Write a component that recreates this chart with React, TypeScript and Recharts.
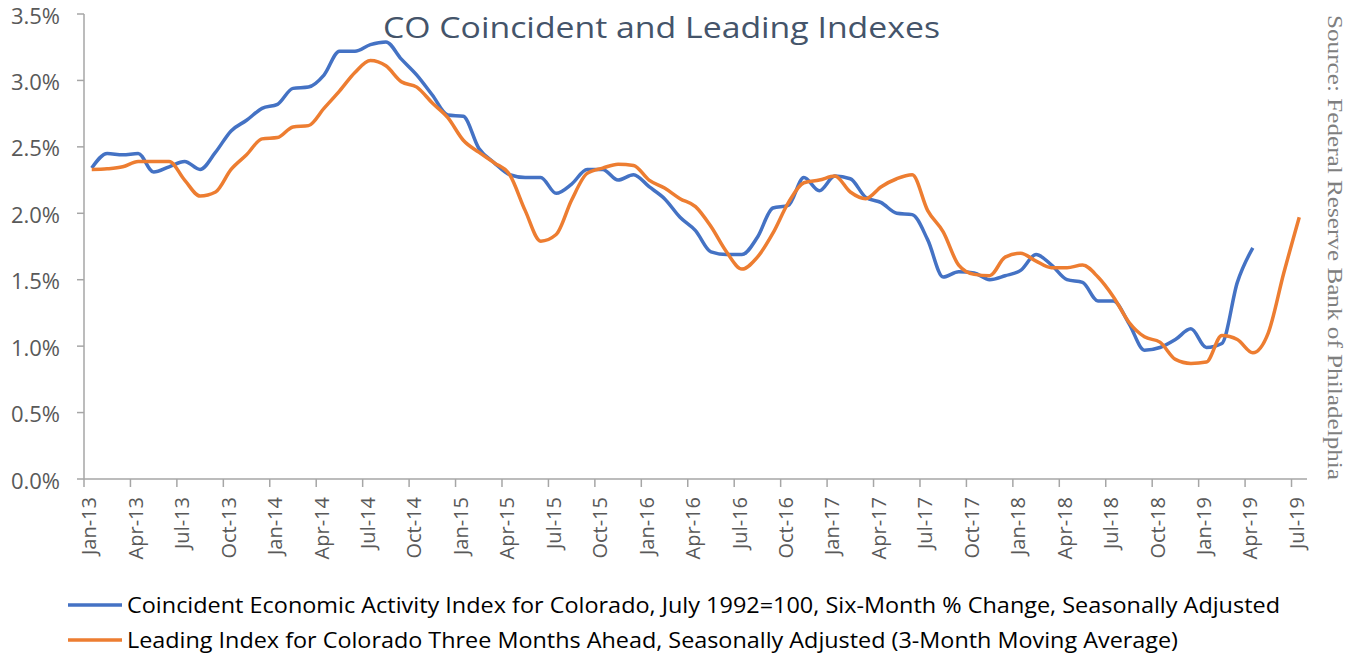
import React from 'react';
import { LineChart, Line, XAxis, YAxis } from 'recharts';

const tickLabels = [
  'Jan-13', 'Apr-13', 'Jul-13', 'Oct-13',
  'Jan-14', 'Apr-14', 'Jul-14', 'Oct-14',
  'Jan-15', 'Apr-15', 'Jul-15', 'Oct-15',
  'Jan-16', 'Apr-16', 'Jul-16', 'Oct-16',
  'Jan-17', 'Apr-17', 'Jul-17', 'Oct-17',
  'Jan-18', 'Apr-18', 'Jul-18', 'Oct-18',
  'Jan-19', 'Apr-19', 'Jul-19',
];

const yTicks = [0, 0.5, 1.0, 1.5, 2.0, 2.5, 3.0, 3.5];

// Coincident index, six-month % change, monthly from Jan-13 to Apr-19
const coincident = [
  2.34, 2.45, 2.44, 2.45, 2.31, 2.35, 2.39, 2.33, 2.46, 2.62, 2.70, 2.79,
  2.82, 2.94, 2.95, 3.04, 3.22, 3.22, 3.27, 3.29, 3.16, 3.04, 2.89, 2.74,
  2.73, 2.49, 2.38, 2.29, 2.27, 2.27, 2.15, 2.22, 2.33, 2.33, 2.25, 2.29,
  2.20, 2.11, 1.97, 1.87, 1.71, 1.69, 1.69, 1.82, 2.04, 2.06, 2.27, 2.17,
  2.28, 2.26, 2.12, 2.08, 2.00, 1.99, 1.80, 1.52, 1.56, 1.55, 1.50, 1.53,
  1.57, 1.69, 1.61, 1.50, 1.48, 1.34, 1.34, 1.17, 0.97, 0.99, 1.05, 1.13,
  0.99, 1.02, 1.48, 1.74,
];

// Leading index, three months ahead, monthly from Jan-13 to Jul-19
const leading = [
  2.33, 2.335, 2.35, 2.39, 2.39, 2.39, 2.25, 2.13, 2.16, 2.33, 2.44, 2.56,
  2.57, 2.65, 2.66, 2.79, 2.92, 3.06, 3.15, 3.11, 2.99, 2.95, 2.83, 2.72,
  2.55, 2.46, 2.38, 2.29, 2.02, 1.79, 1.84, 2.10, 2.30, 2.34, 2.37, 2.36,
  2.25, 2.19, 2.11, 2.05, 1.90, 1.71, 1.58, 1.67, 1.85, 2.08, 2.23, 2.25,
  2.28, 2.16, 2.11, 2.20, 2.26, 2.29, 2.02, 1.86, 1.61, 1.54, 1.53, 1.67,
  1.70, 1.64, 1.59, 1.59, 1.61, 1.52, 1.37, 1.18, 1.07, 1.03, 0.90, 0.87,
  0.88, 1.08, 1.05, 0.95, 1.10, 1.55, 1.97,
];

const seriesNames = [
  'Coincident Economic Activity Index for Colorado, July 1992=100, Six-Month % Change, Seasonally Adjusted',
  'Leading Index for Colorado Three Months Ahead, Seasonally Adjusted (3-Month Moving Average)',
];

const BLUE = '#4472C4';
const ORANGE = '#ED7D31';
const AXIS = '#A6A6A6';
const LABEL = '#595959';
const FONT = "'Open Sans', sans-serif";

// month index -> point placed mid-month
const data = leading.map((v, i) => ({
  t: i + 0.5,
  coincident: i < coincident.length ? coincident[i] : null,
  leading: v,
}));

const xTicks = tickLabels.map((_, k) => k * 3);

const XTick = (props: any) => {
  const { x, y, payload } = props;
  const label = tickLabels[Math.round(payload.value / 3)];
  return (
    <g transform={`translate(${x},${y})`}>
      <text
        transform="rotate(-90)"
        x={0}
        y={0}
        dy={7}
        textAnchor="end"
        dominantBaseline="middle"
        fill={LABEL}
        fontSize={20}
        fontFamily={FONT}
      >
        {label}
      </text>
    </g>
  );
};

const YTick = (props: any) => {
  const { x, y, payload } = props;
  return (
    <text
      x={x}
      y={y}
      dy={9.5}
      textAnchor="end"
      fill={LABEL}
      fontSize={22}
      fontFamily={FONT}
    >
      {Number(payload.value).toFixed(1) + '%'}
    </text>
  );
};

export default function App() {
  return (
    <div style={{ position: 'absolute', left: 0, top: 0, width: 1347, height: 654, background: '#fff' }}>
      <LineChart
        width={1347}
        height={654}
        data={data}
        margin={{ top: 14, right: 40, bottom: 0, left: 0 }}
      >
        <XAxis
          dataKey="t"
          type="number"
          domain={[0, 79]}
          ticks={xTicks}
          interval={0}
          height={175}
          tickSize={8}
          tickMargin={10}
          tick={<XTick />}
          axisLine={{ stroke: AXIS, strokeWidth: 1.5 }}
          tickLine={{ stroke: AXIS, strokeWidth: 1.5 }}
          allowDataOverflow
        />
        <YAxis
          type="number"
          domain={[0, 3.5]}
          ticks={yTicks}
          interval={0}
          width={84}
          tickSize={7}
          tickMargin={17}
          tick={<YTick />}
          axisLine={{ stroke: AXIS, strokeWidth: 1.5 }}
          tickLine={{ stroke: AXIS, strokeWidth: 1.5 }}
        />
        <Line
          type="monotone"
          dataKey="coincident"
          stroke={BLUE}
          strokeWidth={3.5}
          dot={false}
          activeDot={false}
          connectNulls={false}
          isAnimationActive={false}
        />
        <Line
          type="monotone"
          dataKey="leading"
          stroke={ORANGE}
          strokeWidth={3.5}
          dot={false}
          activeDot={false}
          isAnimationActive={false}
        />
      </LineChart>
      <svg
        width={1347}
        height={654}
        style={{ position: 'absolute', left: 0, top: 0, pointerEvents: 'none' }}
      >
        <text
          x={383}
          y={38}
          fill="#44546A"
          fontSize={29}
          fontFamily={FONT}
          textLength={557}
          lengthAdjust="spacingAndGlyphs"
        >
          CO Coincident and Leading Indexes
        </text>
        <g transform="translate(1328,15) rotate(90)">
          <text
            x={0}
            y={0}
            fill="#7F7F7F"
            fontSize={21}
            fontFamily="'Liberation Serif', serif"
            textLength={465}
            lengthAdjust="spacingAndGlyphs"
          >
            Source: Federal Reserve Bank of Philadelphia
          </text>
        </g>
        <line x1={68} y1={605} x2={122} y2={605} stroke={BLUE} strokeWidth={3.5} />
        <text
          x={127}
          y={613}
          fill="#000"
          fontSize={22}
          fontFamily={FONT}
          textLength={1153}
          lengthAdjust="spacingAndGlyphs"
        >
          {seriesNames[0]}
        </text>
        <line x1={68} y1={640} x2={122} y2={640} stroke={ORANGE} strokeWidth={3.5} />
        <text
          x={127}
          y={648}
          fill="#000"
          fontSize={22}
          fontFamily={FONT}
          textLength={1051}
          lengthAdjust="spacingAndGlyphs"
        >
          {seriesNames[1]}
        </text>
      </svg>
    </div>
  );
}
